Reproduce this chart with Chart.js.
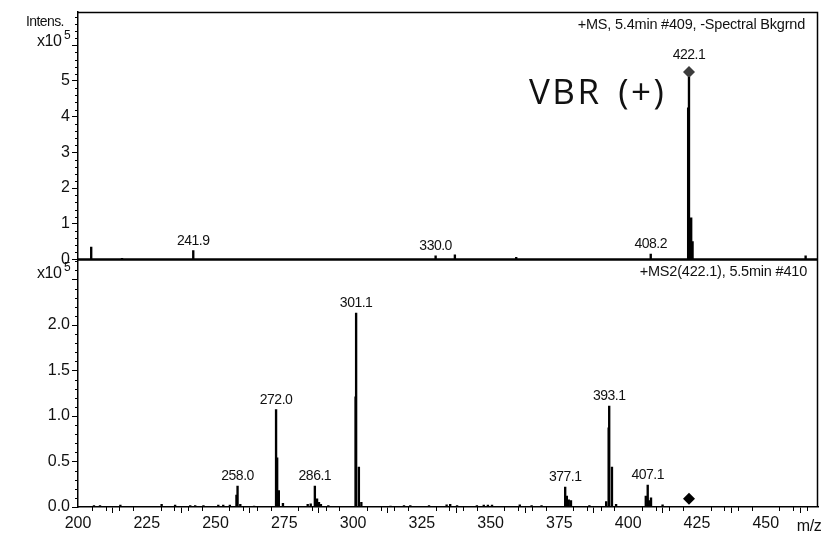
<!DOCTYPE html>
<html>
<head>
<meta charset="utf-8">
<script src="https://cdn.jsdelivr.net/npm/chart.js@4.4.1/dist/chart.umd.min.js"></script>
<style>
  html, body { margin: 0; padding: 0; background: #fff; }
  #wrap { width: 824px; height: 538px; }
</style>
</head>
<body>
<div id="wrap"><canvas id="c" width="824" height="538"></canvas></div>
<script>
// MS scan (+MS, 5.4 min, #409): m/z and intensity (counts)
const msMz   = [204.8, 216.0, 241.9, 330.0, 337.0, 359.3, 408.2, 421.8, 422.1, 422.9, 423.4, 464.5];
const msInt  = [35000, 3000, 25000, 10000, 13000, 6000, 15000, 425000, 510000, 117000, 50000, 10000];
const msLabelled = [241.9, 330.0, 408.2, 422.1];

// MS2 scan of 422.1 (5.5 min, #410)
const ms2Mz  = [205.8, 208.0, 215.4, 230.4, 235.3, 240.8, 242.6, 245.6, 251.0, 252.8, 255.2,
                257.6, 258.0, 259.0, 264.0, 272.0, 272.4, 273.0, 274.5, 283.5, 284.6,
                286.1, 286.9, 287.6, 288.3, 291.0, 300.9, 301.1, 302.1, 303.0, 313.6,
                318.5, 320.8, 327.6, 334.0, 335.3, 337.8, 345.0, 347.5, 349.0, 350.5,
                360.6, 364.9, 368.5, 377.1, 377.7, 378.4, 379.2, 385.9, 392.0, 392.9,
                393.1, 394.1, 395.6, 406.4, 407.1, 407.5, 408.3, 412.5];
const ms2Int = [1500, 1500, 2000, 3000, 2000, 1500, 1500, 1500, 2000, 2000, 2000,
                13000, 23000, 3000, 1000, 107000, 54000, 18000, 4000, 3000, 3500,
                23000, 9000, 5000, 3000, 1500, 121000, 213000, 44000, 5000, 1000,
                1500, 1500, 1500, 2500, 3000, 1500, 1500, 2000, 2000, 2000,
                2500, 1500, 1500, 22000, 12000, 8000, 7000, 1500, 6000, 87000,
                111000, 44000, 3000, 12000, 24000, 7000, 10000, 2500];
const ms2Labelled = [258.0, 272.0, 286.1, 301.1, 377.1, 393.1, 407.1];

// precursor markers (diamonds)
const precursorMz = 422.1;
const precursorMsLevel = 525000;
const precursorMs2Level = 9000;

// axis ranges and ticks
const mzMin = 200, mzMax = 469;
const msMax = 693000, ms2Max = 272000;
const mzMajor = 25, mzMinor = 5;
const msMajor = 100000, msMinor = 20000;
const ms2Major = 50000, ms2Minor = 10000;
const msLastLabel = 500000, ms2LastLabel = 200000;

const FONT = '"Liberation Sans", Arial, sans-serif';

function pts(xs, ys) { return xs.map((x, i) => ({ x: x, y: ys[i] })); }
function valueAt(xs, ys, x) { return ys[xs.indexOf(x)]; }
function steps(max, step) {
  const out = [];
  for (let v = 0; v <= max; v += step) out.push({ value: v });
  return out;
}

function text(ctx, str, x, y, font, align, spacing, wordSpacing) {
  ctx.font = font;
  ctx.textAlign = align;
  ctx.letterSpacing = spacing || '0px';
  ctx.wordSpacing = wordSpacing || '0px';
  ctx.fillText(str, x, y);
  ctx.letterSpacing = '0px';
  ctx.wordSpacing = '0px';
}

const decor = {
  id: 'spectrumDecor',
  afterDraw(chart) {
    const { ctx, chartArea: a, scales } = chart;
    const sx = scales.x, st = scales.yTop, sb = scales.yBot;
    ctx.save();
    ctx.strokeStyle = '#000';
    ctx.fillStyle = '#111';

    // frame (top and right)
    ctx.lineWidth = 1.5;
    ctx.beginPath();
    ctx.moveTo(a.left, a.top + 0.5);
    ctx.lineTo(a.right - 0.5, a.top + 0.5);
    ctx.lineTo(a.right - 0.5, a.bottom);
    ctx.stroke();

    // baseline of the MS panel
    const y0 = st.getPixelForValue(0);
    ctx.lineWidth = 2.5;
    ctx.beginPath();
    ctx.moveTo(a.left, y0);
    ctx.lineTo(a.right, y0);
    ctx.stroke();

    // minor ticks
    ctx.lineWidth = 1;
    ctx.beginPath();
    for (let v = 0; v <= msMax; v += msMinor) {
      if (v % msMajor === 0) continue;
      const py = Math.round(st.getPixelForValue(v)) + 0.5;
      ctx.moveTo(a.left - 3, py); ctx.lineTo(a.left, py);
    }
    for (let v = 0; v <= ms2Max; v += ms2Minor) {
      if (v % ms2Major === 0) continue;
      const py = Math.round(sb.getPixelForValue(v)) + 0.5;
      ctx.moveTo(a.left - 3, py); ctx.lineTo(a.left, py);
    }
    for (let m = mzMin; m <= mzMax; m += mzMinor) {
      if (m % mzMajor === 0) continue;
      const px = Math.round(sx.getPixelForValue(m)) + 0.5;
      ctx.moveTo(px, a.bottom); ctx.lineTo(px, a.bottom + 4);
    }
    ctx.stroke();

    // peak labels
    ctx.textBaseline = 'alphabetic';
    const lblFont = '14px ' + FONT;
    msLabelled.forEach(m => {
      const v = valueAt(msMz, msInt, m);
      let top = st.getPixelForValue(v);
      if (m === precursorMz) top = Math.min(top, st.getPixelForValue(precursorMsLevel) - 7);
      text(ctx, m.toFixed(1), sx.getPixelForValue(m), top - 6, lblFont, 'center', '-0.5px');
    });
    ms2Labelled.forEach(m => {
      const v = valueAt(ms2Mz, ms2Int, m);
      const top = sb.getPixelForValue(v);
      text(ctx, m.toFixed(1), sx.getPixelForValue(m), top - 6, lblFont, 'center', '-0.5px');
    });

    // scan headers
    const hdrFont = '14.5px ' + FONT;
    text(ctx, '+MS, 5.4min #409, -Spectral Bkgrnd', a.right - 13, a.top + 17, hdrFont, 'right', '-0.2px');
    text(ctx, '+MS2(422.1), 5.5min #410', a.right - 11, y0 + 16, hdrFont, 'right', '-0.2px');

    // compound annotation
    ctx.fillStyle = '#111';
    text(ctx, 'VBR (+)', 529, 104, '35px "Open Sans", "Noto Sans", sans-serif', 'left', '2.5px', '5px');

    // axis captions
    text(ctx, 'Intens.', 26, a.top + 14, '14px ' + FONT, 'left', '-0.6px');
    text(ctx, 'x10', 37, a.top + 34, '16px ' + FONT, 'left', '-0.5px');
    text(ctx, '5', 64, a.top + 27, '12px ' + FONT, 'left');
    text(ctx, 'x10', 37, y0 + 18, '16px ' + FONT, 'left', '-0.5px');
    text(ctx, '5', 64, y0 + 11, '12px ' + FONT, 'left');
    text(ctx, 'm/z', 809, a.bottom + 24, '16px ' + FONT, 'center', '-0.5px');

    ctx.restore();
  }
};

const axisFont = { family: FONT, size: 16 };
const tickGrid = { display: true, drawOnChartArea: false, drawTicks: true, tickLength: 6, tickColor: '#000', tickWidth: 1 };
const axisBorder = { display: true, color: '#000', width: 1.5 };

new Chart(document.getElementById('c'), {
  type: 'bar',
  data: {
    datasets: [
      {
        label: 'MS',
        data: pts(msMz, msInt),
        yAxisID: 'yTop',
        backgroundColor: '#000',
        barThickness: 1.7,
        grouped: false
      },
      {
        label: 'MS2',
        data: pts(ms2Mz, ms2Int),
        yAxisID: 'yBot',
        backgroundColor: '#000',
        barThickness: 1.7,
        grouped: false
      },
      {
        type: 'scatter',
        label: 'precursor MS',
        data: [{ x: precursorMz, y: precursorMsLevel }],
        yAxisID: 'yTop',
        pointStyle: 'rectRot',
        radius: 6,
        backgroundColor: '#3c3c3c',
        borderColor: '#3c3c3c',
        borderWidth: 0
      },
      {
        type: 'scatter',
        label: 'precursor MS2',
        data: [{ x: precursorMz, y: precursorMs2Level }],
        yAxisID: 'yBot',
        pointStyle: 'rectRot',
        radius: 6,
        backgroundColor: '#000',
        borderColor: '#000',
        borderWidth: 0
      }
    ]
  },
  options: {
    responsive: false,
    animation: false,
    devicePixelRatio: 1,
    layout: { padding: { left: 0, top: 12, right: 2, bottom: 0 } },
    plugins: { legend: { display: false }, tooltip: { enabled: false } },
    scales: {
      x: {
        type: 'linear',
        position: 'bottom',
        min: mzMin, max: mzMax,
        offset: false,
        grid: tickGrid,
        border: axisBorder,
        ticks: { stepSize: mzMajor, includeBounds: false, maxRotation: 0, autoSkip: false, padding: 1, color: '#111', font: axisFont },
        afterFit(s) { s.height = 31; }
      },
      yBot: {
        type: 'linear',
        position: 'left',
        stack: 'spectra',
        stackWeight: 1,
        min: 0, max: ms2Max,
        grid: tickGrid,
        border: axisBorder,
        ticks: {
          autoSkip: false, padding: 2, color: '#111', font: axisFont,
          callback: v => v <= ms2LastLabel ? (v / 1e5).toFixed(1) : ''
        },
        afterBuildTicks(s) { s.ticks = steps(ms2Max, ms2Major); },
        afterFit(s) { s.width = 78; }
      },
      yTop: {
        type: 'linear',
        position: 'left',
        stack: 'spectra',
        stackWeight: 1,
        min: 0, max: msMax,
        grid: tickGrid,
        border: axisBorder,
        ticks: {
          autoSkip: false, padding: 2, color: '#111', font: axisFont,
          callback: v => v <= msLastLabel ? String(v / 1e5) : ''
        },
        afterBuildTicks(s) { s.ticks = steps(msMax, msMajor); },
        afterFit(s) { s.width = 78; }
      }
    }
  },
  plugins: [decor]
});
</script>
</body>
</html>
